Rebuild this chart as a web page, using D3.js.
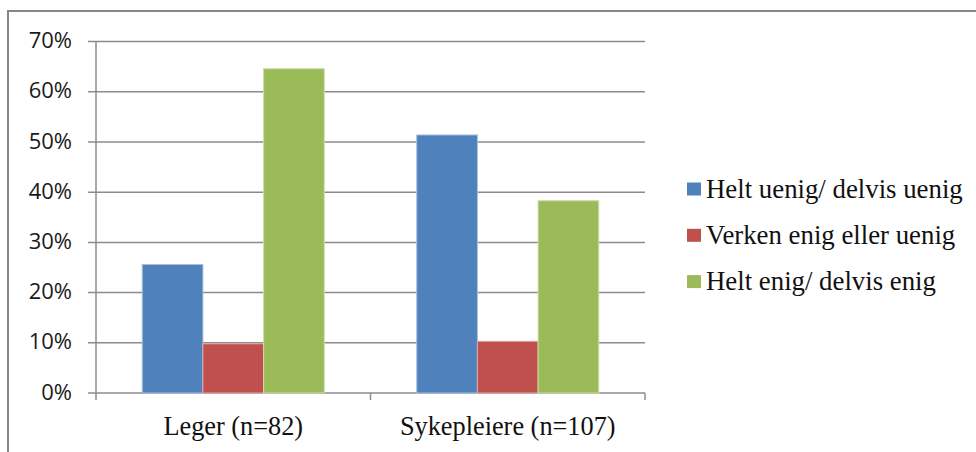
<!DOCTYPE html>
<html>
<head>
<meta charset="utf-8">
<script src="https://cdn.jsdelivr.net/npm/d3@7"></script>
<style>
  html, body { margin: 0; padding: 0; background: #fff; }
  svg { display: block; }
</style>
</head>
<body>
<svg id="chart" width="976" height="452"></svg>
<script>
// Response shares by professional group (percent)
const categories = ["Leger (n=82)", "Sykepleiere (n=107)"];
const seriesNames = ["Helt uenig/ delvis uenig", "Verken enig eller uenig", "Helt enig/ delvis enig"];
const legerValues = [25.6, 9.8, 64.6];
const sykepleiereValues = [51.4, 10.3, 38.3];
const yTicks = [0, 10, 20, 30, 40, 50, 60, 70];
const seriesColors = ["#4F81BD", "#C0504D", "#9BBB59"];
const seriesEdges = ["#A7C0DE", "#DFA8A6", "#CDDDAC"];

const valuesByCategory = [legerValues, sykepleiereValues];
const rows = categories.map((c, i) => ({
  category: c,
  values: seriesNames.map((s, j) => ({ series: s, idx: j, value: valuesByCategory[i][j] }))
}));

const svg = d3.select("#chart");

// outer chart frame
svg.append("rect")
  .attr("x", 8).attr("y", 11)
  .attr("width", 1000).attr("height", 500)
  .attr("fill", "#fff")
  .attr("stroke", "#868686")
  .attr("stroke-width", 2);

const plot = { left: 96, right: 645, top: 41.6, bottom: 393 };

const y = d3.scaleLinear().domain([0, 70]).range([plot.bottom, plot.top]);
const x0 = d3.scaleBand().domain(categories).range([plot.left, plot.right]).padding(0);
const x1 = d3.scaleBand().domain(seriesNames).range([0, x0.bandwidth()])
  .paddingInner(0).paddingOuter(0.762);

// horizontal gridlines with tick stubs
svg.append("g").selectAll("line")
  .data(yTicks)
  .join("line")
  .attr("x1", plot.left - 8).attr("x2", plot.right)
  .attr("y1", d => y(d)).attr("y2", d => y(d))
  .attr("stroke", "#8c8c8c")
  .attr("stroke-width", 1.5);

// y-axis tick labels
svg.append("g").selectAll("text")
  .data(yTicks)
  .join("text")
  .attr("x", 72)
  .attr("y", d => y(d))
  .attr("dy", "0.3em")
  .attr("text-anchor", "end")
  .attr("font-family", "'Open Sans', sans-serif")
  .attr("font-size", 22)
  .attr("fill", "#1a1a1a")
  .text(d => d + "%");

// bars
const groups = svg.append("g").selectAll("g")
  .data(rows)
  .join("g")
  .attr("transform", d => `translate(${x0(d.category)},0)`);

groups.selectAll("rect")
  .data(d => d.values)
  .join("rect")
  .attr("x", d => x1(d.series))
  .attr("width", x1.bandwidth())
  .attr("y", d => y(d.value))
  .attr("height", d => y(0) - y(d.value))
  .attr("fill", d => seriesColors[d.idx])
  .attr("stroke", d => seriesEdges[d.idx])
  .attr("stroke-width", 1);

// vertical axis line
svg.append("line")
  .attr("x1", plot.left).attr("x2", plot.left)
  .attr("y1", plot.top).attr("y2", plot.bottom + 7)
  .attr("stroke", "#8c8c8c").attr("stroke-width", 1.5);

// category boundary ticks
const boundaries = categories.map(c => x0(c) + x0.bandwidth());
svg.append("g").selectAll("line")
  .data(boundaries)
  .join("line")
  .attr("x1", d => d).attr("x2", d => d)
  .attr("y1", plot.bottom).attr("y2", plot.bottom + 7)
  .attr("stroke", "#8c8c8c").attr("stroke-width", 1.5);

// category labels
svg.append("g").selectAll("text")
  .data(categories)
  .join("text")
  .attr("x", d => x0(d) + x0.bandwidth() / 2)
  .attr("y", 435)
  .attr("text-anchor", "middle")
  .attr("font-family", "'Liberation Serif', 'Times New Roman', serif")
  .attr("font-size", 26.3)
  .attr("fill", "#111")
  .text(d => d);

// legend
const legend = svg.append("g").selectAll("g")
  .data(seriesNames)
  .join("g")
  .attr("transform", (d, i) => `translate(687, ${189 + i * 46.3})`);

legend.append("rect")
  .attr("x", 0).attr("y", -6.5)
  .attr("width", 14).attr("height", 13)
  .attr("fill", (d, i) => seriesColors[i]);

legend.append("text")
  .attr("x", 19)
  .attr("y", 8.8)
  .attr("font-family", "'Liberation Serif', 'Times New Roman', serif")
  .attr("font-size", 26.8)
  .attr("fill", "#111")
  .text(d => d);
</script>
</body>
</html>
